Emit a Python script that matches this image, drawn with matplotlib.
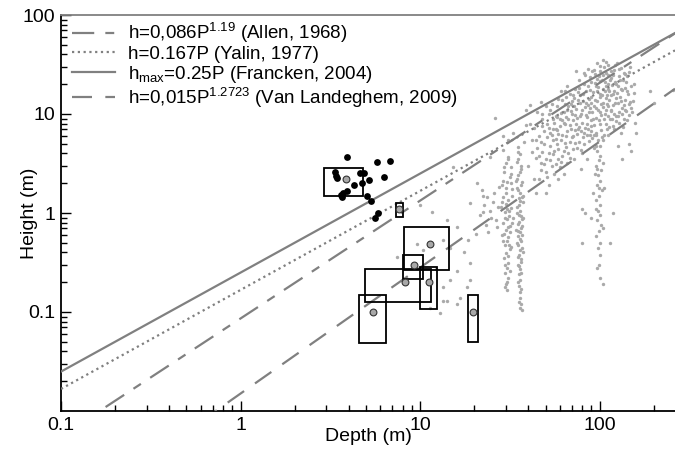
import matplotlib
matplotlib.use("Agg")
import matplotlib.pyplot as plt
import numpy as np
from matplotlib.patches import Rectangle

plt.rcParams['font.family'] = ['Liberation Sans', 'DejaVu Sans']
plt.rcParams['mathtext.fontset'] = 'custom'
plt.rcParams['mathtext.rm'] = 'Liberation Sans'
plt.rcParams['mathtext.it'] = 'Liberation Sans'

# empirical relations h = a * P^b
rel_labels = ['h=0,086P$^{1.19}$ (Allen, 1968)',
              'h=0.167P (Yalin, 1977)',
              'h$_{max}$=0.25P (Francken, 2004)',
              'h=0,015P$^{1.2723}$ (Van Landeghem, 2009)']
rel_a = [0.086, 0.167, 0.25, 0.015]
rel_b = [1.19, 1.0, 1.0, 1.2723]

# black dots (depth, height)
black_x = [3.91, 5.78, 6.81, 3.36, 3.40, 3.46, 4.63, 4.88, 5.22, 6.30,
           4.73, 4.29, 3.91, 3.74, 3.66, 5.09, 5.31, 5.81, 5.64, 3.62]
black_y = [3.70, 3.25, 3.35, 2.58, 2.36, 2.24, 2.52, 2.52, 2.15, 2.29,
           2.00, 1.92, 1.68, 1.60, 1.44, 1.49, 1.32, 1.01, 0.89, 1.52]

# boxes: depth range, height range, mean value
box_x0 = [2.92, 7.35, 8.15, 8.07, 4.96, 10.0, 4.59, 18.4]
box_x1 = [4.83, 8.01, 14.45, 10.35, 11.47, 12.5, 6.47, 21.0]
box_y0 = [1.49, 0.92, 0.265, 0.214, 0.127, 0.107, 0.049, 0.05]
box_y1 = [2.87, 1.25, 0.727, 0.377, 0.27, 0.287, 0.148, 0.148]
box_cx = [3.87, 7.67, 11.3, 9.2, 8.2, 11.2, 5.5, 19.7]
box_cy = [2.19, 1.10, 0.49, 0.30, 0.20, 0.20, 0.10, 0.10]

# grey dots, per group (depth, height)
grey_small = [(10.0, 1.2), (11.6, 1.03), (19.0, 1.25), (22.4, 1.5), (14.1, 0.85),
              (16.0, 0.73), (18.6, 0.53), (20.6, 0.62), (17.5, 0.4), (14.7, 0.44),
              (19.0, 0.31), (14.7, 0.21), (13.5, 0.18), (16.7, 0.14), (14.1, 0.13),
              (11.3, 0.11), (12.9, 0.097), (13.5, 0.53), (7.4, 0.36), (9.6, 0.49),
              (10.4, 0.42), (12.3, 0.27), (16.0, 0.26), (19.0, 0.21), (18.2, 0.18),
              (16.0, 0.12), (15.2, 2.9), (20.7, 2.0), (13.5, 0.13)]
grey_col30 = [(29, 4.3), (31, 3.7), (30, 3.2), (32, 2.9), (29.5, 2.6), (31.5, 2.3),
              (30.5, 2.05), (28.5, 1.9), (32.5, 1.75), (30, 1.6), (29, 1.45), (31, 1.35),
              (30.2, 1.22), (32, 1.12), (29.6, 1.02), (31.2, 0.94), (30.4, 0.86), (28.8, 0.8),
              (31.8, 0.74), (30, 0.68), (29.3, 0.62), (31, 0.57), (30.6, 0.52), (29.8, 0.47),
              (31.5, 0.43), (30.2, 0.39), (29.5, 0.35), (31, 0.31), (30.4, 0.28), (29.8, 0.25),
              (30.8, 0.22), (30.2, 0.19), (30.6, 0.165), (32.6, 1.5), (28.2, 1.15), (32.8, 0.9),
              (28.6, 0.6), (32.2, 0.45), (29, 2.1), (32, 2.5), (30.5, 1.1), (31.6, 0.65),
              (30.8, 3.5), (29.4, 2.9), (31.9, 2.0), (30.1, 1.8), (28.7, 1.3), (31.4, 1.05),
              (29.9, 0.9), (32.4, 0.8), (30.7, 0.72), (29.1, 0.52), (31.3, 0.48), (30.9, 0.37),
              (29.7, 0.3), (31.7, 0.26), (30.3, 0.2), (29.6, 0.18)]
grey_col36 = [(35, 4.6), (36, 3.9), (34.5, 3.3), (36.5, 2.8), (35.2, 2.4), (37, 2.05),
              (34.8, 1.8), (36.2, 1.6), (35.5, 1.42), (37.2, 1.28), (34.6, 1.15), (36, 1.04),
              (35.4, 0.95), (36.8, 0.86), (35, 0.78), (36.4, 0.71), (35.8, 0.64), (34.9, 0.58),
              (36.6, 0.52), (35.3, 0.47), (36.1, 0.42), (35.6, 0.38), (36.3, 0.34), (35.1, 0.3),
              (35.9, 0.27), (35.4, 0.24), (36, 0.21), (35.6, 0.185), (36.2, 0.16), (35.8, 0.14),
              (36.5, 0.12), (36.9, 0.105), (37.5, 0.9), (34.2, 0.68), (37.4, 0.4), (34.3, 2.1),
              (37.6, 1.5), (35.7, 1.2), (36.9, 0.6), (35.3, 4.1), (34.9, 3.5), (36.7, 3.0),
              (35.9, 2.6), (34.7, 2.2), (36.4, 1.9), (35.1, 1.7), (37.1, 1.45), (35.8, 1.33),
              (34.8, 1.0), (36.6, 0.93), (35.5, 0.82), (37, 0.74), (35.2, 0.66), (36.2, 0.55),
              (34.7, 0.5), (36.8, 0.44), (35.3, 0.36), (36.6, 0.32), (35.7, 0.29), (36.4, 0.25),
              (35.2, 0.2), (36.7, 0.17), (35.4, 0.125), (35.9, 0.11)]
grey_col24 = [(22, 1.7), (23.5, 1.45), (22.8, 1.2), (24.6, 1.05), (21.5, 0.95), (25.5, 1.3),
              (26.4, 0.85), (23.2, 0.75), (27.2, 1.15), (24, 0.65), (25.8, 1.6), (26.8, 0.72),
              (22.3, 1.02), (27.6, 1.85), (24.8, 0.9), (31, 5.5), (33, 6.5), (38, 5.2),
              (39, 7.8), (29, 6.0), (24.5, 3.7), (26, 9.1), (40, 3.0), (42, 5.5), (43, 2.2),
              (41, 8.0), (44, 1.6), (39, 11)]
grey_col100 = [(96, 6.2), (98, 5.4), (100, 4.8), (97, 4.2), (101, 3.8), (99, 3.4), (96, 3.0),
               (102, 2.7), (98, 2.4), (100, 2.1), (97, 1.9), (103, 1.7), (99, 1.5), (96, 1.35),
               (101, 1.2), (98, 1.05), (100, 0.95), (97, 0.85), (102, 0.75), (99, 0.66),
               (95, 0.58), (101, 0.5), (98, 0.44), (100, 0.38), (99, 0.3), (101, 0.22),
               (94, 2.5), (92, 1.6), (104, 3.2), (106, 1.8), (90, 0.9), (105, 0.7), (93, 4.5),
               (103, 5.8), (97, 2.8), (99, 1.8), (95, 1.1), (80, 1.1), (83, 1.0), (118, 1.0),
               (80, 0.5), (114, 0.5), (104, 0.19), (97, 0.28)]
grey_cloud = [(45, 4.5), (46, 6), (47, 3.2), (48, 7.5), (49, 5), (50, 2.6), (51, 8), (52, 4),
              (53, 6.5), (54, 3), (55, 9), (44, 5.5), (46, 2.2), (50, 1.6), (52, 1.9), (48, 10),
              (55, 5.5), (53, 11), (56, 4.2), (57, 7), (58, 12), (59, 3.5), (60, 9), (61, 5.5),
              (62, 14), (63, 2.5), (64, 8), (65, 6), (66, 11), (67, 4), (68, 16), (69, 7),
              (70, 10), (58, 5), (60, 2.9), (62, 3.8), (64, 12.5), (66, 19), (68, 5.2),
              (70, 13.5), (57, 9.5), (59, 6.3), (61, 17), (63, 10.5), (65, 4.6), (67, 8.8),
              (71, 6), (72, 12), (73, 18), (74, 8), (75, 4.5), (76, 14), (77, 22), (78, 9.5),
              (79, 6.8), (80, 11), (81, 16), (82, 5), (83, 25), (84, 13), (85, 8), (86, 19),
              (87, 10.5), (88, 6.2), (89, 15), (90, 21), (72, 3.5), (74, 27), (76, 7),
              (78, 15.5), (80, 4), (82, 20), (84, 9.8), (86, 12.2), (88, 17.5), (90, 7.5),
              (79, 2.8), (85, 3.5), (92, 9), (93, 28), (94, 14), (95, 19), (96, 6.5), (97, 33),
              (98, 11), (99, 24), (100, 8), (101, 16), (102, 12.5), (103, 22), (104, 5.5),
              (105, 18), (106, 30), (107, 10), (108, 14.5), (109, 26), (110, 7), (111, 20),
              (112, 12), (113, 17), (114, 9), (115, 23), (95, 4.8), (100, 27), (105, 13),
              (110, 15.5), (93, 12), (97, 17), (101, 10.5), (107, 21), (112, 25), (116, 11),
              (118, 16), (120, 28), (122, 13), (124, 20), (126, 9.5), (128, 24), (130, 15),
              (132, 18), (134, 11.5), (136, 26), (138, 14), (140, 21), (142, 17), (145, 12.5),
              (148, 30), (150, 19), (119, 7.5), (125, 33), (131, 6.5), (137, 9), (143, 24),
              (127, 4.8), (133, 3.5), (145, 5), (150, 4.2), (190, 17), (200, 13), (255, 17.5)]
grey_cloud2 = [(46, 3.8), (47, 5.2), (48, 4.1), (49, 6.8), (50, 3.5), (51, 5.9), (52, 7.2),
               (53, 4.8), (54, 6.1), (55, 3.9), (56, 8.2), (57, 5.6), (58, 6.9), (59, 4.4),
               (60, 7.6), (61, 10.2), (62, 6.2), (63, 8.1), (64, 5.1), (65, 9.4), (66, 6.7),
               (67, 12.1), (68, 7.8), (69, 10.8), (70, 5.9), (71, 8.6), (72, 14.5), (73, 6.9),
               (74, 11.2), (75, 9.1), (76, 16.8), (77, 7.4), (78, 12.8), (79, 10.1), (80, 8.2),
               (81, 13.6), (82, 6.4), (83, 11.7), (84, 17.2), (85, 9.4), (86, 7.1), (87, 14.2),
               (88, 11.4), (89, 8.7), (90, 12.9), (91, 10.4), (92, 16.5), (93, 7.8), (94, 20.5),
               (95, 11.6), (96, 9.2), (97, 13.4), (98, 18.9), (99, 8.6), (100, 14.8), (101, 21.5),
               (102, 9.7), (103, 15.6), (104, 11.8), (105, 24.5), (106, 8.9), (107, 16.9),
               (108, 11.1), (109, 19.4), (110, 12.7), (111, 9.6), (112, 17.8), (113, 13.9),
               (114, 21.8), (115, 10.6), (116, 15.4), (117, 19.8), (118, 12.3), (119, 24.8),
               (120, 10.1), (121, 17.1), (122, 21.2), (123, 14.6), (124, 8.4), (125, 16.2),
               (126, 19.1), (127, 12.9), (128, 28.5), (129, 10.4), (130, 22.3), (132, 13.6),
               (134, 17.3), (135, 21.9), (137, 12.2), (139, 18.4), (141, 10.8), (144, 15.9),
               (146, 26.5), (148, 13.2), (152, 10.5), (155, 16.3), (158, 8.2), (160, 6.5),
               (100, 30.5), (112, 31.5), (94, 25.2), (88, 23.5), (82, 26.1), (116, 27.5),
               (104, 35), (97, 22.8), (73, 9.7), (69, 12.5), (65, 14.8), (62, 8.6), (58, 9.3),
               (55, 7.1), (52, 9.9), (50, 12.1), (48, 8.9), (47, 13.2), (44, 3.6), (43, 7.3),
               (45, 10.4), (42, 4.1), (41, 12.3)]
grey_cloud3 = [(47, 2.7), (49, 3.1), (51, 2.3), (53, 3.4), (56, 2.5), (57, 3.1), (59, 2.2),
               (61, 3.3), (63, 4.2), (66, 3.2), (68, 3.6), (71, 4.4), (73, 5.1), (75, 6.3),
               (77, 5.2), (79, 4.3), (81, 5.9), (83, 7.3), (85, 6.1), (87, 5.3), (89, 6.7),
               (91, 5.7), (93, 6.1), (102, 6.9), (106, 6.2), (108, 7.9), (111, 6.1), (113, 7.4),
               (117, 8.9), (121, 7.1), (123, 9.6), (129, 8.1), (133, 9.9), (135, 7.4),
               (139, 11.1), (142, 8.6), (146, 9.8), (150, 11.6), (153, 13.5), (156, 20),
               (108, 33.5), (122, 31), (131, 29), (139, 25.5), (86, 28.5), (91, 27),
               (77, 18.5), (71, 15.5), (64, 17.2), (59, 14.1), (54, 12.7)]

grey_all = (grey_small + grey_col30 + grey_col36 + grey_col24 + grey_col100
            + grey_cloud + grey_cloud2 + grey_cloud3)
grey_x = [p[0] for p in grey_all]
grey_y = [p[1] for p in grey_all]

fig = plt.figure(figsize=(6.75, 4.59), dpi=100)
ax = fig.add_axes([61 / 675, 48 / 459, 614 / 675, 396 / 459])
ax.set_xscale('log')
ax.set_yscale('log')
ax.set_xlim(0.1, 263)
ax.set_ylim(0.01, 100)

ax.scatter(grey_x, grey_y, s=6, c='#aaaaaa', linewidths=0, zorder=2)

# relation lines
line_col = '#808080'
styles = [dict(dashes=(10, 5, 4, 5)), dict(dashes=(1, 1.6)), dict(linestyle='-'), dict(dashes=(9, 6))]
Pd = np.logspace(-1, np.log10(263), 50)
for a, b, lab, st in zip(rel_a, rel_b, rel_labels, styles):
    ax.plot(Pd, a * Pd ** b, color=line_col, lw=1.6, label=lab, zorder=3, **st)

ax.scatter(black_x, black_y, s=24, c='black', linewidths=0, zorder=4)

for x0, x1, y0, y1 in zip(box_x0, box_x1, box_y0, box_y1):
    ax.add_patch(Rectangle((x0, y0), x1 - x0, y1 - y0, fill=False,
                           edgecolor='black', lw=1.3, zorder=5))
ax.scatter(box_cx, box_cy, s=24, c='#a8a8a8', edgecolors='#333333', linewidths=0.8, zorder=6)

ax.set_xticks([0.1, 1, 10, 100])
ax.set_xticklabels(['0.1', '1', '10', '100'])
ax.set_yticks([0.1, 1, 10, 100])
ax.set_yticklabels(['0.1', '1', '10', '100'])
ax.tick_params(which='both', direction='in', labelsize=14, width=1)
ax.tick_params(which='major', length=7, pad=4)
ax.tick_params(which='minor', length=4)
for s in ['left', 'bottom']:
    ax.spines[s].set_linewidth(1.3)
ax.spines['top'].set_color('#808080')
ax.spines['top'].set_linewidth(1.3)
ax.spines['right'].set_visible(False)

ax.set_xlabel('Depth (m)', fontsize=14, labelpad=-4)
ax.set_ylabel('Height (m)', fontsize=14)
ax.yaxis.set_label_coords(-0.0375, 0.5)

ax.legend(loc='upper left', bbox_to_anchor=(11 / 614, 1 - 6 / 396), frameon=False, fontsize=13.5,
          handlelength=2.3, handletextpad=0.7, labelspacing=0.04, borderaxespad=0, borderpad=0)

fig.savefig('out.png', dpi=100)
